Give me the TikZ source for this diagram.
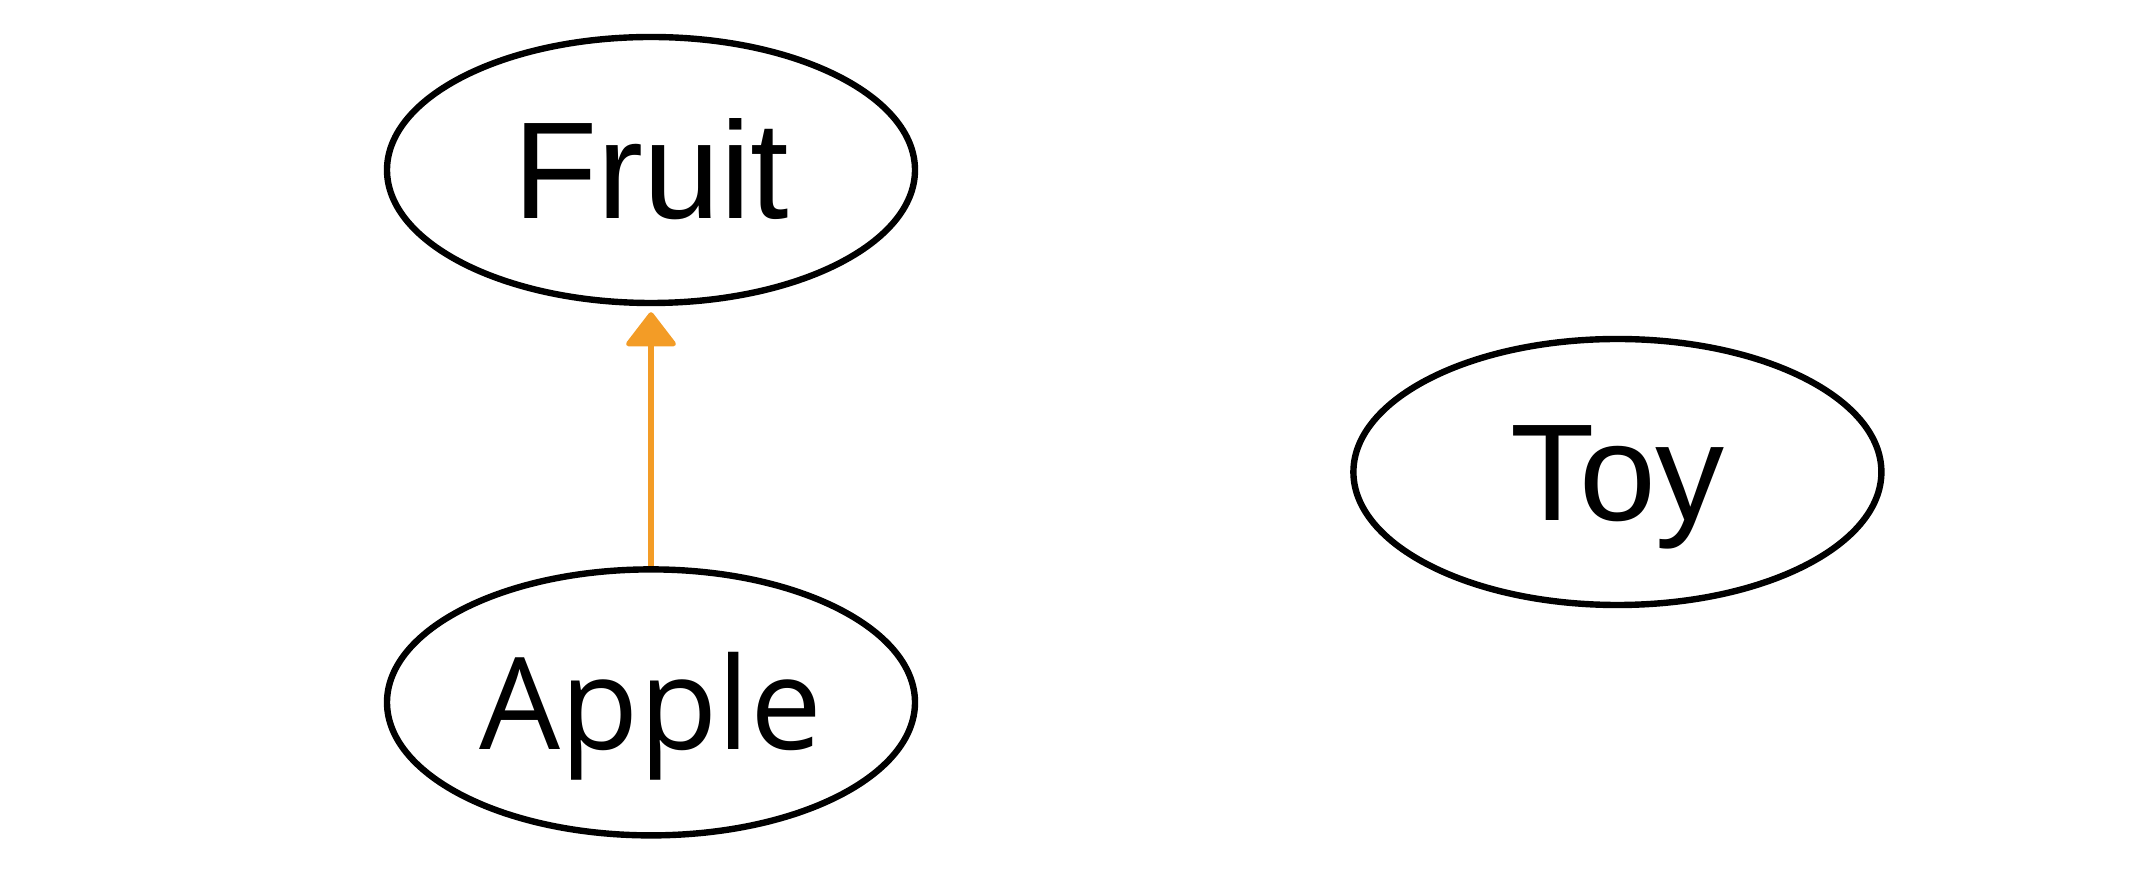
\documentclass[tikz,border=0pt]{standalone}
\usepackage{fontspec}
\setmainfont{Liberation Sans}
\newfontfamily\applefont{Open Sans}
\usetikzlibrary{arrows.meta,positioning,shapes.geometric}
\definecolor{linkorange}{RGB}{243,156,38}

\begin{document}
\begin{tikzpicture}[
  x=0.5pt,y=-0.5pt,
  concept/.style={draw,ellipse,line width=3.2pt,inner sep=0pt,
    minimum width=264pt,minimum height=133pt,
    text height=49pt,text depth=0pt,
    font=\fontsize{69}{82}\selectfont},
  link/.style={-{Triangle[length=18pt,width=27pt,round]},
    line width=2.6pt,draw=linkorange,fill=linkorange}
]
\useasboundingbox (0,0) rectangle (2154,870);

\node[concept] (fruit) at (651,170) {Fruit};
\node[concept,below=130pt of fruit,
  font=\applefont\fontsize{64}{76}\selectfont,text height=47pt] (apple) {Apple};
\node[concept,right=216pt of fruit,yshift=-151pt] (toy) {Toy};

\draw[link,shorten >=3pt] (apple) -- (fruit);
\end{tikzpicture}
\end{document}
